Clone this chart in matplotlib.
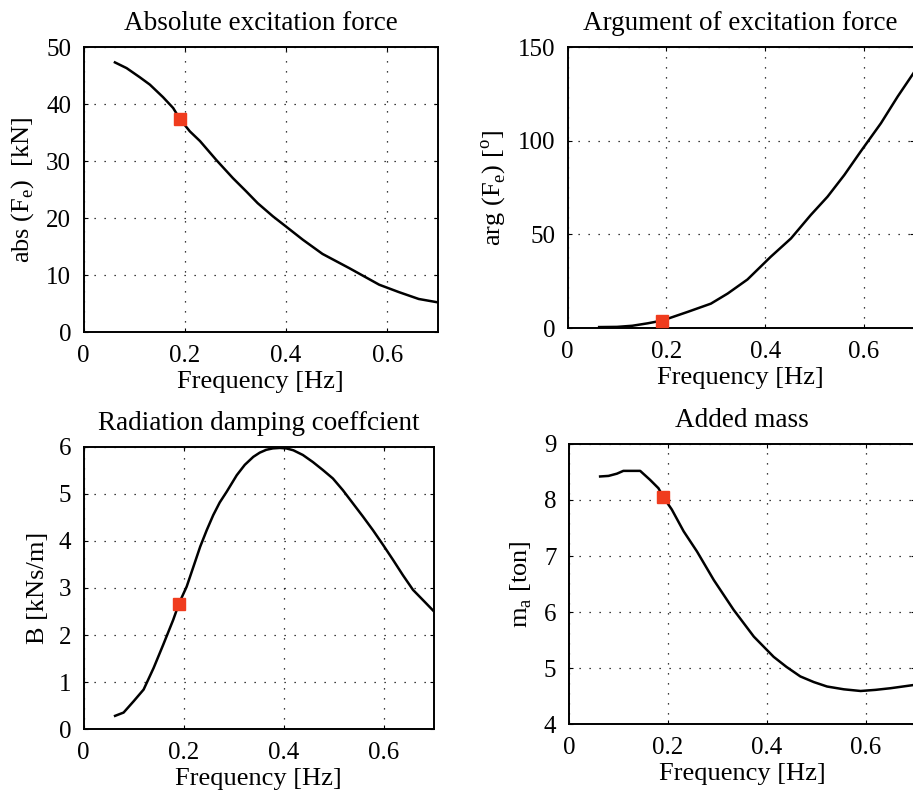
import numpy as np
import matplotlib
matplotlib.use("Agg")
import matplotlib.pyplot as plt

plt.rcParams['font.family'] = ['Liberation Serif', 'DejaVu Serif']
plt.rcParams['mathtext.fontset'] = 'custom'
plt.rcParams['mathtext.rm'] = 'Liberation Serif'
plt.rcParams['font.size'] = 18

# excitation force magnitude [kN]
freq_abs = [0.062, 0.085, 0.111, 0.131, 0.157, 0.177, 0.190, 0.210, 0.230, 0.262, 0.295,
            0.321, 0.344, 0.374, 0.400, 0.433, 0.472, 0.525, 0.584, 0.623, 0.662, 0.700]
abs_fe = [47.3, 46.3, 44.7, 43.4, 41.2, 39.3, 37.4, 35.2, 33.5, 30.2, 27.0,
          24.7, 22.6, 20.3, 18.5, 16.2, 13.7, 11.2, 8.3, 7.0, 5.8, 5.2]

# excitation force phase [deg]
freq_arg = [0.064, 0.100, 0.131, 0.162, 0.192, 0.243, 0.290, 0.324, 0.364, 0.411, 0.452,
            0.492, 0.526, 0.560, 0.593, 0.634, 0.668, 0.700]
arg_fe = [0.5, 0.6, 1.2, 2.5, 4.0, 8.6, 13.0, 18.4, 25.9, 38.0, 47.8,
          60.3, 70.1, 81.7, 94.2, 109.3, 123.6, 136.1]

# radiation damping [kNs/m]
freq_b = [0.063, 0.080, 0.100, 0.120, 0.140, 0.159, 0.179, 0.191, 0.206, 0.220, 0.233,
          0.246, 0.259, 0.272, 0.286, 0.306, 0.322, 0.339, 0.352, 0.365, 0.378, 0.392,
          0.405, 0.419, 0.438, 0.458, 0.478, 0.498, 0.518, 0.538, 0.558, 0.578, 0.598,
          0.618, 0.638, 0.658, 0.680, 0.700]
damp_b = [0.28, 0.35, 0.59, 0.84, 1.30, 1.79, 2.32, 2.68, 3.03, 3.47, 3.88,
          4.23, 4.55, 4.82, 5.05, 5.40, 5.62, 5.79, 5.88, 5.94, 5.97, 5.98,
          5.97, 5.93, 5.83, 5.68, 5.51, 5.33, 5.08, 4.80, 4.52, 4.23, 3.92,
          3.60, 3.27, 2.96, 2.72, 2.50]

# added mass [ton]
freq_m = [0.063, 0.080, 0.097, 0.110, 0.144, 0.164, 0.181, 0.191, 0.208, 0.232, 0.259,
          0.293, 0.333, 0.374, 0.414, 0.440, 0.468, 0.495, 0.522, 0.556, 0.590, 0.620,
          0.651, 0.700]
mass_a = [8.42, 8.43, 8.47, 8.52, 8.52, 8.36, 8.21, 8.05, 7.83, 7.44, 7.08,
          6.57, 6.04, 5.56, 5.20, 5.02, 4.85, 4.75, 4.67, 4.62, 4.59, 4.61,
          4.64, 4.70]

# selected operating point
pt_freq = [0.190, 0.192, 0.190, 0.191]
pt_val = [37.4, 4.0, 2.66, 8.05]

xticks = [0, 0.2, 0.4, 0.6]
xticklabels = ['0', '0.2', '0.4', '0.6']

fig = plt.figure(figsize=(9.13, 7.9), dpi=100)

panels = [
    ([0.0915, 0.5797, 0.3882, 0.3608], freq_abs, abs_fe, (0, 50), np.arange(0, 51, 10),
     'Absolute excitation force', r'abs (F$_\mathrm{e}$)  [kN]'),
    ([0.6216, 0.5848, 0.3790, 0.3557], freq_arg, arg_fe, (0, 150), [0, 50, 100, 150],
     'Argument of excitation force', r'arg (F$_\mathrm{e}$) [$^\mathrm{o}$]'),
    ([0.0915, 0.0772, 0.3839, 0.3570], freq_b, damp_b, (0, 6), range(0, 7),
     'Radiation damping coeffcient', 'B [kNs/m]'),
    ([0.6232, 0.0835, 0.3790, 0.3545], freq_m, mass_a, (4, 9), range(4, 10),
     'Added mass', r'm$_\mathrm{a}$ [ton]'),
]

for i, (pos, x, y, ylim, yticks, title, ylabel) in enumerate(panels):
    ax = fig.add_axes(pos)
    ax.plot(x, y, color='black', lw=1.8)
    ax.plot(pt_freq[i], pt_val[i], 's', color='#f03c1e', markersize=8, zorder=5)
    ax.set_xlim(0, 0.7)
    ax.set_ylim(*ylim)
    ax.set_xticks(xticks)
    ax.set_xticklabels(xticklabels)
    ax.set_yticks(yticks)
    ax.grid(True, linestyle=(0, (1, 7)), color='black', lw=0.9)
    ax.tick_params(direction='in', length=3, width=0.8, top=True, right=True,
                   labelsize=18, pad=9)
    for s in ax.spines.values():
        s.set_linewidth(1.4)
    ax.set_title(title, fontsize=19.5, pad=12)
    ax.set_xlabel('Frequency [Hz]', fontsize=19, labelpad=3)
    ax.set_ylabel(ylabel, fontsize=19, labelpad=7)

fig.savefig('out.png', dpi=100)
